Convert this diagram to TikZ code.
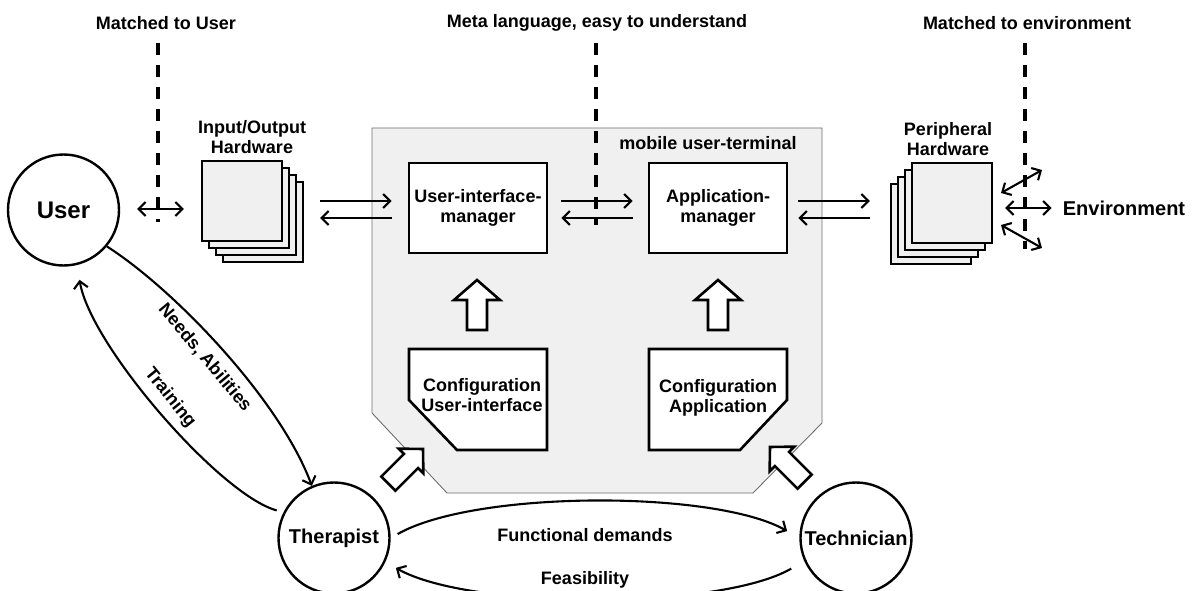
\documentclass[tikz,border=0pt]{standalone}
\usepackage{fontspec}
\setmainfont{Liberation Sans}
\usetikzlibrary{arrows.meta,calc}
\definecolor{tfill}{HTML}{F0F0F0}
\definecolor{tline}{HTML}{6E6E6E}
\begin{document}
\begin{tikzpicture}[x=1pt,y=-1pt,
  lbl/.style={font=\fontsize{18}{20}\selectfont\bfseries, align=center, inner sep=0pt},
  big/.style={font=\fontsize{20}{22}\selectfont\bfseries, inner sep=0pt},
  box/.style={draw, line width=2.6pt, fill=white, minimum width=138pt, minimum height=90pt, align=center, font=\fontsize{18}{19.5}\selectfont\bfseries, inner sep=0pt},
  arr/.style={line width=2.1pt, -{Straight Barb[length=7pt,width=14pt]}},
  darr/.style={line width=2.1pt, {Straight Barb[length=7pt,width=14pt]}-{Straight Barb[length=7pt,width=14pt]}},
  dashline/.style={line width=3.3pt, dash pattern=on 12pt off 10pt},
  circ/.style={draw, circle, line width=2.4pt, minimum size=111pt, inner sep=0pt, fill=white},
  hw/.style={draw, line width=2.4pt, fill=tfill, minimum size=80pt, inner sep=0pt},
  blk/.style={draw, line width=2.6pt, fill=white, line join=miter},
  cfg/.style={draw, line width=2.6pt, fill=white, line join=miter}
]
\useasboundingbox (0,0) rectangle (1197,591);

% mobile user-terminal region
\draw[fill=tfill, draw=tline, line width=0.9pt] (372,128) -- (822,128) -- (822,423) -- (753,493) -- (447,493) -- (372,413) -- cycle;
\node[lbl] (term) at (708,143) {mobile user-terminal};

% top labels
\node[lbl] (t1) at (166,23) {Matched to User};
\node[lbl] (t2) at (597,23) {Meta language, easy to understand};
\node[lbl] (t3) at (1027,23) {Matched to environment};

% user
\node[circ, font=\fontsize{24}{26}\selectfont\bfseries] (user) at (63.5,210) {User};

% input/output hardware stack
\foreach \k in {3,2,1} \draw[line width=2.4pt, fill=tfill] (202+7*\k,161+7*\k) rectangle +(80,80);
\node[hw] (io) at (242,201) {};
\node[lbl] (iol) at (252,137) {Input/Output\\Hardware};

% managers
\node[box] (uim) at (478,208) {User-interface-\\manager};
\node[box] (apm) at (718,208) {Application-\\manager};

% peripheral hardware stack
\foreach \k in {3,2,1} \draw[line width=2.4pt, fill=tfill] (912-7*\k,163+7*\k) rectangle +(80,80);
\node[hw] (per) at (952,203) {};
\node[lbl] (perl) at (948,139) {Peripheral\\Hardware};

\node[big] (env) at (1124,208) {Environment};

% configuration boxes
\draw[cfg] (409,349) -- (547,349) -- (547,450) -- (457,450) -- (409,400) -- cycle;
\node[lbl] (cfgui) at (482,395) {Configuration\\User-interface};
\draw[cfg] (649,349) -- (787,349) -- (787,400) -- (740,450) -- (649,450) -- cycle;
\node[lbl] (cfgapp) at (718,398) {Configuration\\Application};

% block arrows
\draw[blk, shift={(477,280)}, rotate=90] (0,0) -- (-20,23) -- (-20,10) -- (-50,10) -- (-50,-10) -- (-20,-10) -- (-20,-23) -- cycle;
\draw[blk, shift={(718,280)}, rotate=90] (0,0) -- (-20,23) -- (-20,10) -- (-50,10) -- (-50,-10) -- (-20,-10) -- (-20,-23) -- cycle;
\draw[blk, shift={(423,449)}, rotate=45] (0,0) -- (-17,17.5) -- (-17,10) -- (-49,10) -- (-49,-10) -- (-17,-10) -- (-17,-17.5) -- cycle;
\draw[blk, shift={(770,447)}, rotate=135] (0,0) -- (-17,17.5) -- (-17,10) -- (-49,10) -- (-49,-10) -- (-17,-10) -- (-17,-17.5) -- cycle;

% therapist, technician
\node[circ, font=\fontsize{20}{22}\selectfont\bfseries] (ther) at (334,538) {Therapist};
\node[circ, font=\fontsize{20}{22}\selectfont\bfseries] (tech) at (856,538) {Technician};

% horizontal arrows
\coordinate (yu) at (0,201);
\coordinate (yl) at (0,218);
\draw[darr, shorten <=17pt, shorten >=17pt] (user.east |- 0,209) -- (io.west |- 0,209);
\draw[arr, shorten <=37pt, shorten >=16pt] (io.east |- yu) -- (uim.west |- yu);
\draw[arr, shorten <=16pt, shorten >=37pt] (uim.west |- yl) -- (io.east |- yl);
\draw[arr, shorten <=13pt, shorten >=15pt] (uim.east |- yu) -- (apm.west |- yu);
\draw[arr, shorten <=15pt, shorten >=13pt] (apm.west |- yl) -- (uim.east |- yl);
\draw[arr, shorten <=10pt, shorten >=41pt] (apm.east |- yu) -- (per.west |- yu);
\draw[arr, shorten <=41pt, shorten >=10pt] (per.west |- yl) -- (apm.east |- yl);

% environment arrows
\coordinate (e1a) at (1001,193);
\coordinate (e1b) at (1042,170);
\coordinate (e2a) at (1001,225);
\coordinate (e2b) at (1042,248);
\draw[darr] (e1a) -- (e1b);
\draw[darr, shorten <=12pt, shorten >=11pt] (per.east |- env) -- (env.west);
\draw[darr] (e2a) -- (e2b);

% dashed lines
\draw[dashline] (158,43) -- (158,222);
\draw[dashline] (596,43) -- (596,225);
\draw[dashline] (1025,43) -- (1025,249);

% user <-> therapist
\draw[arr] (user.-40) .. controls (175,290) and (280,400) .. (ther.113);
\draw[arr, shorten <=7pt, shorten >=15pt] (ther.153) .. controls (220,495) and (90,345) .. (user.-76);
\node[lbl, rotate=-50] (needs) at (205,358) {Needs, Abilities};
\node[lbl, rotate=-51] (train) at (170,398) {Training};

% therapist <-> technician
\draw[arr, shorten <=8pt, shorten >=14pt] (ther.east) .. controls (475,490) and (715,490) .. (tech.west);
\draw[arr, shorten <=15pt, shorten >=12pt] (tech.204) .. controls (720,610) and (470,610) .. (ther.-25);
\node[lbl] (fd) at (585,535) {Functional demands};
\node[lbl] (fe) at (585,580) {Feasibility};
\end{tikzpicture}
\end{document}
